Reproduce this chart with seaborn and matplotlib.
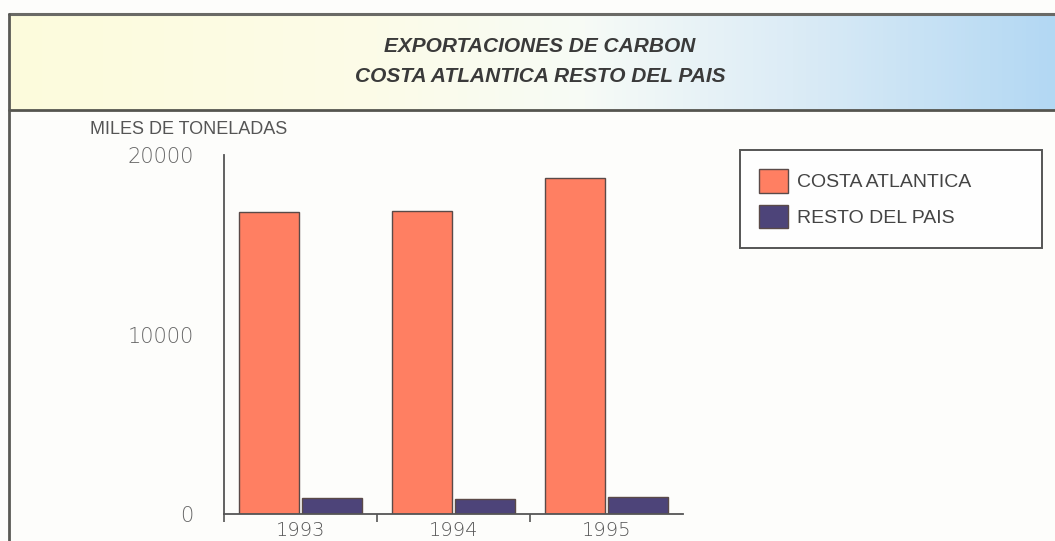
import matplotlib
matplotlib.use('Agg')
import matplotlib.pyplot as plt
from matplotlib.colors import LinearSegmentedColormap
import seaborn as sns
import numpy as np
import pandas as pd

# values (miles de toneladas)
years = ['1993', '1994', '1995']
costa_atlantica = [16850, 16900, 18700]
resto_del_pais = [890, 840, 930]
series_names = ['COSTA ATLANTICA', 'RESTO DEL PAIS']
y_ticks = [0, 10000, 20000]

df = pd.DataFrame({
    'year': years * 2,
    'value': costa_atlantica + resto_del_pais,
    'serie': [series_names[0]] * 3 + [series_names[1]] * 3,
})

sns.set_theme(style='white')
plt.rcParams['font.family'] = ['Liberation Sans', 'DejaVu Sans']

W, H = 1055, 541
fig = plt.figure(figsize=(W / 100, H / 100), dpi=100)
fig.patch.set_facecolor('#fdfdfb')

# header band with yellow -> blue gradient
head = fig.add_axes([9 / W, 1 - 110 / H, 1 - 9 / W, 96 / H])
cmap = LinearSegmentedColormap.from_list(
    'hdr', [(0, '#fdfbdc'), (0.35, '#fcfbe8'), (0.55, '#f7fbf6'), (0.75, '#dcecf6'), (1, '#b3d8f3')])
grad = np.linspace(0, 1, 256)[None, :]
head.imshow(grad, aspect='auto', cmap=cmap, extent=[0, 1, 0, 1])
head.set_xlim(0, 1)
head.set_ylim(0, 1)
head.axis('off')

# frame lines of the panel
fig.add_artist(plt.Line2D([9 / W, 1], [1 - 14 / H] * 2, color='#6a6a66', lw=2.2))
fig.add_artist(plt.Line2D([9 / W, 1], [1 - 110 / H] * 2, color='#55554f', lw=2.0))
fig.add_artist(plt.Line2D([9 / W] * 2, [0, 1 - 14 / H], color='#5a5a55', lw=2.0))

title_font = ['Liberation Sans Narrow', 'Liberation Sans', 'DejaVu Sans']
fig.text(540 / W, 1 - 47 / H, 'EXPORTACIONES DE CARBON', ha='center', va='center',
         fontsize=15, fontstyle='italic', fontweight='bold', color='#3a3a3a', family=title_font)
fig.text(540 / W, 1 - 77 / H, 'COSTA ATLANTICA RESTO DEL PAIS', ha='center', va='center',
         fontsize=15, fontstyle='italic', fontweight='bold', color='#3a3a3a', family=title_font)

# main plot
ax = fig.add_axes([224 / W, 1 - 514 / H, (683 - 224) / W, (514 - 155) / H])
ax.set_facecolor('none')
sns.barplot(data=df, x='year', y='value', hue='serie', palette=['#ff7f62', '#4d4479'],
            saturation=1, width=0.82, gap=0.05, errorbar=None,
            edgecolor='#5a4a48', linewidth=1.0, ax=ax)

ax.set_xlim(-0.5, 2.5)
ax.set_ylim(0, 20000)
ax.set_xlabel('')
ax.set_ylabel('')
for s in ['top', 'right']:
    ax.spines[s].set_visible(False)
for s in ['left', 'bottom']:
    ax.spines[s].set_color('#555555')
    ax.spines[s].set_linewidth(1.3)

ax.set_yticks(y_ticks)
ax.set_yticklabels([str(v) for v in y_ticks])
ax.tick_params(axis='y', length=0, pad=22, labelsize=15, labelcolor='#666666')
ax.tick_params(axis='x', which='major', length=0, pad=5, labelsize=14, labelcolor='#555555')
ax.set_xticks([-0.5, 0.5, 1.5], minor=True)
ax.tick_params(axis='x', which='minor', length=6, width=1.2, color='#555555', direction='out', bottom=True)
for lab in ax.get_yticklabels() + ax.get_xticklabels():
    lab.set_family('DejaVu Sans')
    lab.set_fontweight('light')

fig.text(90 / W, 1 - 130 / H, 'MILES DE TONELADAS', ha='left', va='center',
         fontsize=13, color='#555555')

handles, labels = ax.get_legend_handles_labels()
ax.legend(handles, labels, loc='upper left', mode='expand',
          bbox_to_anchor=(740 / W, 1 - 255 / H, 302 / W, 105 / H),
          bbox_transform=fig.transFigure, frameon=True, fancybox=False,
          edgecolor='#555555', facecolor='#fefefe', framealpha=1,
          fontsize=14, handlelength=1.45, handleheight=1.45, handletextpad=0.5,
          labelspacing=0.65, borderpad=1.0, borderaxespad=0)
leg = ax.get_legend()
leg.get_frame().set_linewidth(1.4)
for t in leg.get_texts():
    t.set_color('#444444')

fig.savefig('out.png', dpi=100, facecolor=fig.get_facecolor())
